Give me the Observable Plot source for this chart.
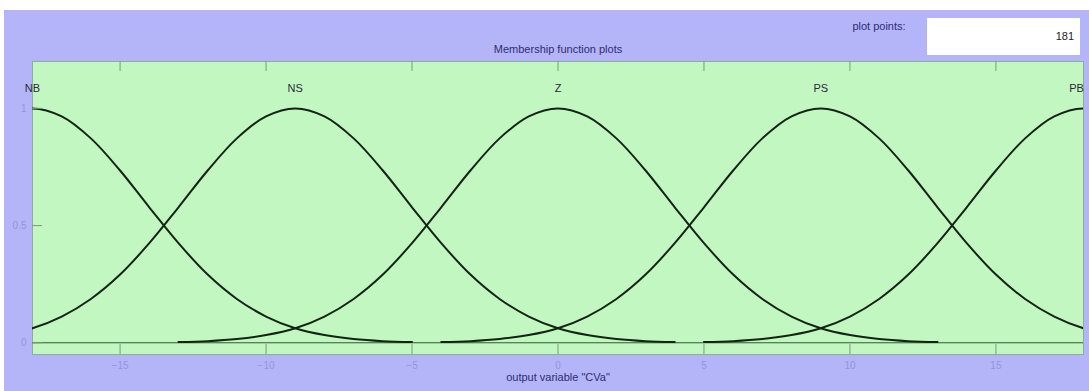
<!DOCTYPE html>
<html><head><meta charset="utf-8">
<script src="https://cdn.jsdelivr.net/npm/d3@7"></script>
<script src="https://cdn.jsdelivr.net/npm/@observablehq/plot@0.6"></script>
<style>
html,body{margin:0;padding:0;background:#fff;}
#panel{position:absolute;left:4px;top:10px;width:1085px;height:381px;background:#b4b4f9;overflow:hidden;font-family:"Liberation Sans",Arial,sans-serif;}
#chart{position:absolute;left:0;top:0;}
#pplabel{position:absolute;left:835px;top:10px;width:80px;text-align:center;font-size:11px;color:#2e2e70;}
#ppbox{position:absolute;left:923px;top:8px;width:153px;height:37px;background:#fff;box-sizing:border-box;padding-right:6px;text-align:right;line-height:37px;font-size:11px;color:#222;}
</style>
</head><body>
<div id="panel"><div id="chart"></div><div id="pplabel">plot points:</div><div id="ppbox">181</div></div>
<script>
const xTicks = [-15, -10, -5, 0, 5, 10, 15];
const yTicks = [0, 0.5, 1];
const yTickLabels = ["0", "0.5", "1"];
const mfNames = ["NB", "NS", "Z", "PS", "PB"];
const mfCenters = [-18, -9, 0, 9, 18];
// membership value read at offsets from each MF centre (all MFs share the same shape)
const mfOffsets = [-13,-12,-11,-10,-9,-8,-7,-6,-5,-4,-3,-2,-1,0,1,2,3,4,5,6,7,8,9,10,11,12,13];
const mfShape = [0.003,0.007,0.016,0.033,0.062,0.112,0.187,0.291,0.425,0.578,0.735,0.872,0.966,1,
                 0.966,0.872,0.735,0.578,0.425,0.291,0.187,0.112,0.062,0.033,0.016,0.007,0.003];
const title = "Membership function plots";
const xLabel = 'output variable "CVa"';

const curves = mfNames.flatMap((name, k) =>
  mfOffsets.map((o, i) => ({name, x: mfCenters[k] + o, y: mfShape[i]})));

const W = 1085, H = 381, mL = 28, mR = 6, mT = 51, mB = 37;
const fw = W - mL - mR, fh = H - mT - mB, tick = 10;
const last = mfNames.length - 1;

const chart = Plot.plot({
  width: W, height: H,
  marginLeft: mL, marginRight: mR, marginTop: mT, marginBottom: mB,
  x: {domain: [-18, 18]},
  y: {domain: [-0.05, 1.2]},
  style: {background: "transparent", fontFamily: "Liberation Sans, Arial, sans-serif", overflow: "visible"},
  marks: [
    Plot.frame({fill: "#c2f7c2", stroke: "#8fae9a"}),
    Plot.ruleY([0], {stroke: "#2d5a2d", strokeWidth: 1}),
    Plot.line(curves, {x: "x", y: "y", z: "name", stroke: "#142414", strokeWidth: 2, curve: "catmull-rom", clip: true}),
    Plot.ruleX(xTicks, {stroke: "#7d9a7d", insetTop: fh - tick}),
    Plot.ruleX(xTicks, {stroke: "#7d9a7d", insetBottom: fh - tick}),
    Plot.ruleY(yTicks, {stroke: "#7d9a7d", insetRight: fw - tick}),
    Plot.axisX(xTicks, {anchor: "bottom", tickSize: 0, tickPadding: 7, fill: "#9494d6", fontSize: 10, label: null}),
    Plot.axisY(yTicks, {anchor: "left", tickSize: 0, tickPadding: 6, fill: "#9494d6", fontSize: 10, label: null,
      tickFormat: d => yTickLabels[yTicks.indexOf(d)]}),
    Plot.text(mfNames.slice(0, last), {x: (d, i) => mfCenters[i], text: d => d, frameAnchor: "top", dy: 23, fill: "#2a2a3a", fontSize: 11}),
    Plot.text(mfNames.slice(last), {x: () => mfCenters[last], text: d => d, frameAnchor: "top", dy: 23, dx: -7, fill: "#2a2a3a", fontSize: 11}),
    Plot.text([title], {frameAnchor: "top", dy: -16, fill: "#2e2e70", fontSize: 11}),
    Plot.text([xLabel], {frameAnchor: "bottom", dy: 26, fill: "#2e2e70", fontSize: 11})
  ]
});
document.getElementById("chart").appendChild(chart);
</script>
</body></html>
